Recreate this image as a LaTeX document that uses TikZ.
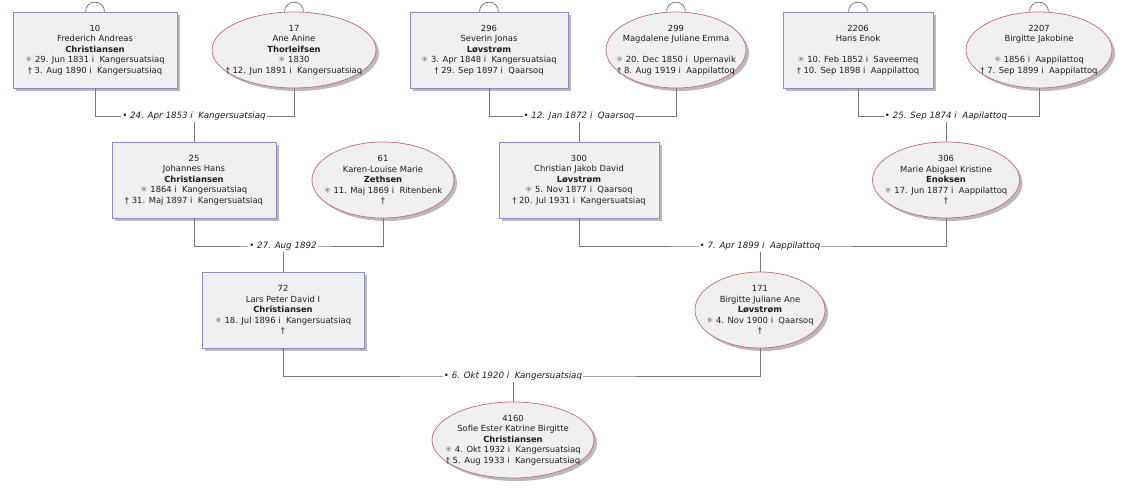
\documentclass[tikz,border=0pt]{standalone}
\usepackage{fontspec}
\setmainfont{DejaVu Sans}
\usepackage{tikz}
\usetikzlibrary{shapes,shadows}
\tikzset{every picture/.style={line width=0.75pt}}

\definecolor{manblue}{RGB}{140,140,205}
\definecolor{womanred}{RGB}{195,115,115}
\definecolor{nodegray}{RGB}{240,240,240}
\definecolor{linegray}{RGB}{120,120,120}
\definecolor{textgray}{RGB}{30,30,30}

\newcommand{\bornsym}{{\color{black!55}✳}}
\newcommand{\deathsym}{†}
\newcommand{\marsym}{•}

\tikzset{
  manbox/.style={rectangle, draw=manblue, fill=nodegray, minimum height=76, inner sep=0pt,
    drop shadow={shadow xshift=3pt, shadow yshift=-3pt, fill=black!45, opacity=.6}},
  womanell/.style={ellipse, draw=womanred, fill=nodegray, minimum height=76, inner sep=0pt,
    drop shadow={shadow xshift=3pt, shadow yshift=-3pt, fill=black!45, opacity=.6}},
  persontext/.style={align=center, inner sep=0pt, text=textgray, font=\fontsize{8.4}{10.5}\selectfont},
  marrlabel/.style={fill=white, inner xsep=1pt, inner ysep=1.5pt, text=textgray, font=\fontsize{8.7}{10}\selectfont\itshape},
  famline/.style={draw=linegray, line width=0.8pt},
  loopline/.style={draw=linegray, line width=0.8pt},
}

\begin{document}
\begin{tikzpicture}[x=1pt,y=1pt,yscale=-1,xscale=1]

\useasboundingbox (0,0) rectangle (1126,500);

%Shape: Rectangle [id:p10]
\node [manbox, minimum width=164] (p10) at (95,50) {};
% Text Node
\node [persontext] (p10t) at (p10) {10\\Frederich Andreas\\\textbf{Christiansen}\\\bornsym\ 29. Jun 1831 i\ \ Kangersuatsiaq\\\deathsym\ 3. Aug 1890 i\ \ Kangersuatsiaq};
%Shape: Ellipse [id:p17]
\node [womanell, minimum width=164] (p17) at (294,50) {};
% Text Node
\node [persontext] (p17t) at (p17) {17\\Ane Anine\\\textbf{Thorleifsen}\\\bornsym\ 1830\\\deathsym\ 12. Jun 1891 i\ \ Kangersuatsiaq};
%Shape: Rectangle [id:p296]
\node [manbox, minimum width=158] (p296) at (489,50) {};
% Text Node
\node [persontext] (p296t) at (p296) {296\\Severin Jonas\\\textbf{Løvstrøm}\\\bornsym\ 3. Apr 1848 i\ \ Kangersuatsiaq\\\deathsym\ 29. Sep 1897 i\ \ Qaarsoq};
%Shape: Ellipse [id:p299]
\node [womanell, minimum width=140] (p299) at (676,50) {};
% Text Node
\node [persontext] (p299t) at (p299) {299\\Magdalene Juliane Emma\\\mbox{}\\\bornsym\ 20. Dec 1850 i\ \ Upernavik\\\deathsym\ 8. Aug 1919 i\ \ Aappilattoq};
%Shape: Rectangle [id:p2206]
\node [manbox, minimum width=150] (p2206) at (858,50) {};
% Text Node
\node [persontext] (p2206t) at (p2206) {2206\\Hans Enok\\\mbox{}\\\bornsym\ 10. Feb 1852 i\ \ Saveerneq\\\deathsym\ 10. Sep 1898 i\ \ Aappilattoq};
%Shape: Ellipse [id:p2207]
\node [womanell, minimum width=146] (p2207) at (1039,50) {};
% Text Node
\node [persontext] (p2207t) at (p2207) {2207\\Birgitte Jakobine\\\mbox{}\\\bornsym\ 1856 i\ \ Aappilattoq\\\deathsym\ 7. Sep 1899 i\ \ Aappilattoq};

%Shape: Rectangle [id:p25]
\node [manbox, minimum width=164] (p25) at (194,180) {};
% Text Node
\node [persontext] (p25t) at (p25) {25\\Johannes Hans\\\textbf{Christiansen}\\\bornsym\ 1864 i\ \ Kangersuatsiaq\\\deathsym\ 31. Maj 1897 i\ \ Kangersuatsiaq};
%Shape: Ellipse [id:p61]
\node [womanell, minimum width=142] (p61) at (383,180) {};
% Text Node
\node [persontext] (p61t) at (p61) {61\\Karen-Louise Marie\\\textbf{Zethsen}\\\bornsym\ 11. Maj 1869 i\ \ Ritenbenk\\\deathsym};
%Shape: Rectangle [id:p300]
\node [manbox, minimum width=160] (p300) at (579,180) {};
% Text Node
\node [persontext] (p300t) at (p300) {300\\Christian Jakob David\\\textbf{Løvstrøm}\\\bornsym\ 5. Nov 1877 i\ \ Qaarsoq\\\deathsym\ 20. Jul 1931 i\ \ Kangersuatsiaq};
%Shape: Ellipse [id:p306]
\node [womanell, minimum width=147] (p306) at (946,180) {};
% Text Node
\node [persontext] (p306t) at (p306) {306\\Marie Abigael Kristine\\\textbf{Enoksen}\\\bornsym\ 17. Jun 1877 i\ \ Aappilattoq\\\deathsym};

%Shape: Rectangle [id:p72]
\node [manbox, minimum width=162] (p72) at (283,310) {};
% Text Node
\node [persontext] (p72t) at (p72) {72\\Lars Peter David I\\\textbf{Christiansen}\\\bornsym\ 18. Jul 1896 i\ \ Kangersuatsiaq\\\deathsym};
%Shape: Ellipse [id:p171]
\node [womanell, minimum width=130] (p171) at (760,310) {};
% Text Node
\node [persontext] (p171t) at (p171) {171\\Birgitte Juliane Ane\\\textbf{Løvstrøm}\\\bornsym\ 4. Nov 1900 i\ \ Qaarsoq\\\deathsym};

%Shape: Ellipse [id:p4160]
\node [womanell, minimum width=162] (p4160) at (513,440) {};
% Text Node
\node [persontext] (p4160t) at (p4160) {4160\\Sofie Ester Katrine Birgitte\\\textbf{Christiansen}\\\bornsym\ 4. Okt 1932 i\ \ Kangersuatsiaq\\\deathsym\ 5. Aug 1933 i\ \ Kangersuatsiaq};

%Shape: Arc (more ancestors)
\draw [loopline] ([xshift=-9.5pt]p10.north) arc [start angle=-180, end angle=0, radius=9.5];
\draw [loopline] ([xshift=-9.5pt]p17.north) arc [start angle=-180, end angle=0, radius=9.5];
\draw [loopline] ([xshift=-9.5pt]p296.north) arc [start angle=-180, end angle=0, radius=9.5];
\draw [loopline] ([xshift=-9.5pt]p299.north) arc [start angle=-180, end angle=0, radius=9.5];
\draw [loopline] ([xshift=-9.5pt]p2206.north) arc [start angle=-180, end angle=0, radius=9.5];
\draw [loopline] ([xshift=-9.5pt]p2207.north) arc [start angle=-180, end angle=0, radius=9.5];

%Straight Lines [id:m1]
\coordinate (m1) at (194,116);
\draw [famline] (p10.south) |- (m1) -| (p17.south);
% Text Node
\node [marrlabel] (m1t) at (m1) {\marsym\ 24. Apr 1853 i\ \ Kangersuatsiaq\ };
\draw [famline] (m1t.south) -- (p25.north);
%Straight Lines [id:m2]
\coordinate (m2) at (579,116);
\draw [famline] (p296.south) |- (m2) -| (p299.south);
% Text Node
\node [marrlabel] (m2t) at (m2) {\marsym\ 12. Jan 1872 i\ \ Qaarsoq\ };
\draw [famline] (m2t.south) -- (p300.north);
%Straight Lines [id:m3]
\coordinate (m3) at (946,116);
\draw [famline] (p2206.south) |- (m3) -| (p2207.south);
% Text Node
\node [marrlabel] (m3t) at (m3) {\marsym\ 25. Sep 1874 i\ \ Aapilattoq\ };
\draw [famline] (m3t.south) -- (p306.north);

%Straight Lines [id:m4]
\coordinate (m4) at (283,246);
\draw [famline] (p25.south) |- (m4) -| (p61.south);
% Text Node
\node [marrlabel] (m4t) at (m4) {\marsym\ 27. Aug 1892};
\draw [famline] (m4t.south) -- (p72.north);
%Straight Lines [id:m5]
\coordinate (m5) at (760,246);
\draw [famline] (p300.south) |- (m5) -| (p306.south);
% Text Node
\node [marrlabel] (m5t) at (m5) {\marsym\ 7. Apr 1899 i\ \ Aappilattoq\ };
\draw [famline] (m5t.south) -- (p171.north);

%Straight Lines [id:m6]
\coordinate (m6) at (513,376);
\draw [famline] (p72.south) |- (m6) -| (p171.south);
% Text Node
\node [marrlabel] (m6t) at (m6) {\marsym\ 6. Okt 1920 i\ \ Kangersuatsiaq\ };
\draw [famline] (m6t.south) -- (p4160.north);

\end{tikzpicture}
\end{document}
